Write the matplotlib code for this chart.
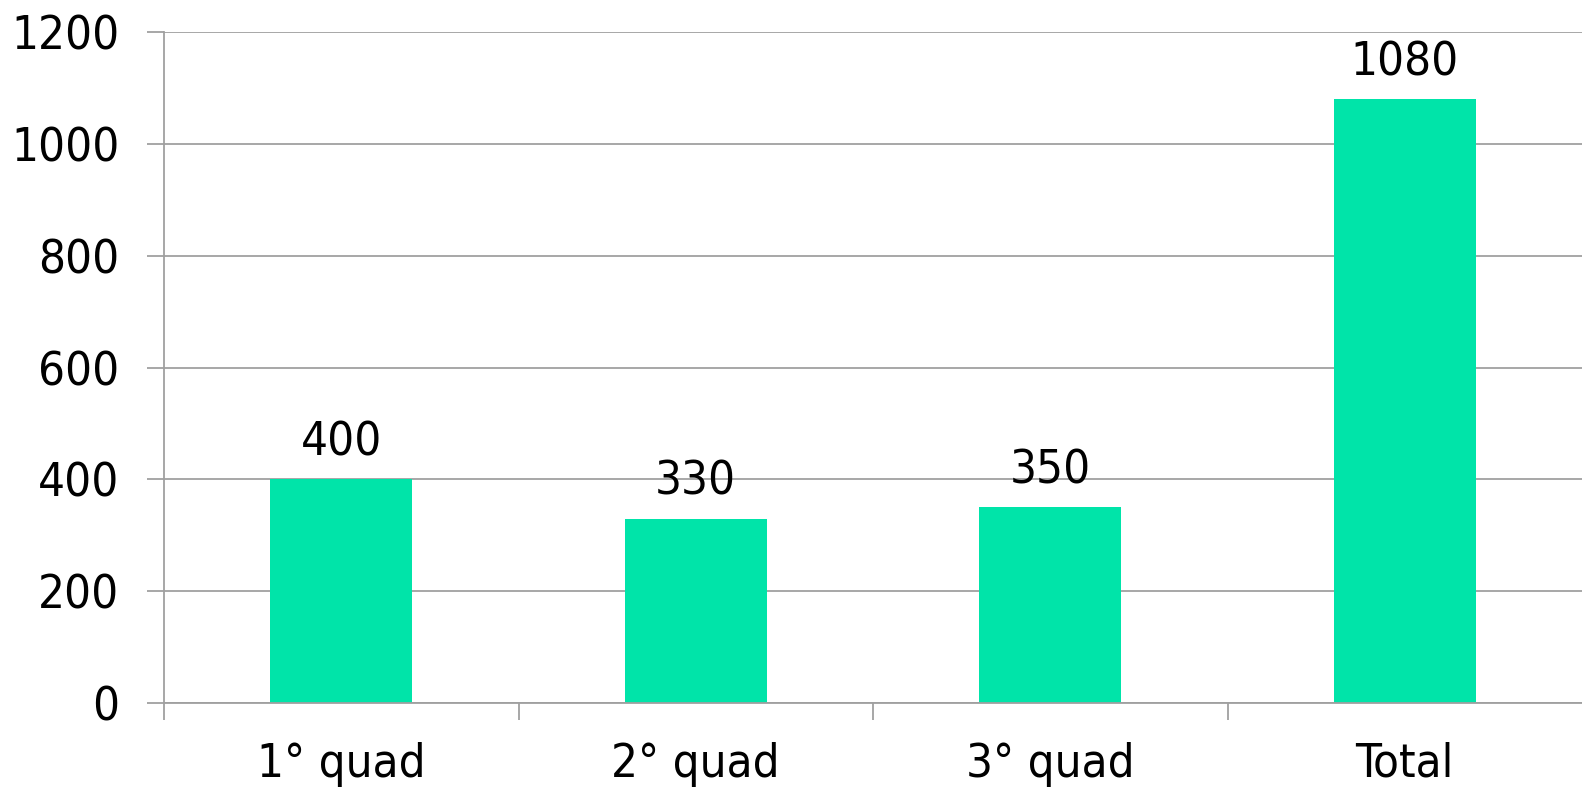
import numpy as np
import matplotlib.pyplot as plt

categorias = ['1° quad', '2° quad', '3° quad', 'Total']
valores = [400, 330, 350, 1080]
y_ticks = [0, 200, 400, 600, 800, 1000, 1200]

cor_barra = '#00E4A9'
cinza = '#A0A0A0'

plt.rcParams['font.family'] = ['DejaVu Sans']
plt.rcParams['font.stretch'] = 'condensed'

fig = plt.figure(figsize=(15.82, 7.93), dpi=100)
ax = fig.add_axes([0.1037, 0.1135, 0.8963, 0.846])

x = np.arange(len(categorias))
barras = ax.bar(x, valores, width=0.4, color=cor_barra, zorder=2)

# rótulos de dados acima das barras
for xi, v in zip(x, valores):
    ax.annotate(str(v), (xi, v), xytext=(0, 10), textcoords='offset points',
                ha='center', va='bottom', fontsize=34, color='black')

ax.set_xlim(-0.5, len(categorias) - 0.5)
ax.set_ylim(0, 1200)
ax.set_yticks(y_ticks)
ax.set_yticklabels([str(t) for t in y_ticks])
ax.set_xticks(x)
ax.set_xticklabels(categorias)
ax.set_xticks(np.arange(len(categorias)) - 0.5, minor=True)

ax.yaxis.grid(True, color=cinza, linewidth=1.3, zorder=0)
ax.set_axisbelow(True)

ax.tick_params(axis='y', length=12, width=1.3, color=cinza, pad=20, labelsize=34)
ax.tick_params(axis='x', which='major', length=0, pad=28, labelsize=34)
ax.tick_params(axis='x', which='minor', length=12, width=1.3, color=cinza)

for s in ['top', 'right']:
    ax.spines[s].set_visible(False)
for s in ['left', 'bottom']:
    ax.spines[s].set_color(cinza)
    ax.spines[s].set_linewidth(1.3)

plt.savefig('out.png', dpi=100)
